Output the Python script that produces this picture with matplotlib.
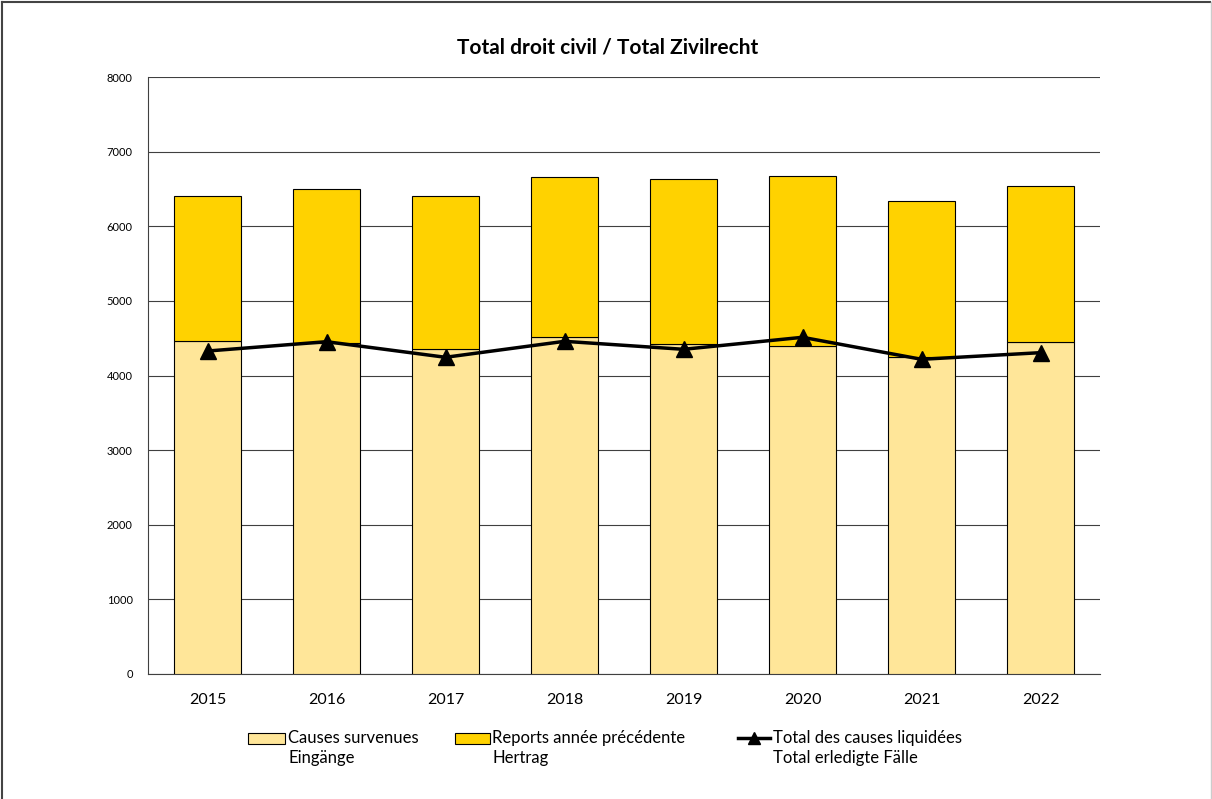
import matplotlib
matplotlib.use("Agg")
import matplotlib.pyplot as plt
from matplotlib.patches import Rectangle
from matplotlib.lines import Line2D
import numpy as np

years = ["2015", "2016", "2017", "2018", "2019", "2020", "2021", "2022"]
causes_survenues = [4462, 4440, 4359, 4516, 4422, 4395, 4244, 4445]
reports = [1943, 2055, 2046, 2148, 2207, 2283, 2089, 2094]
liquidees = [4328, 4453, 4244, 4458, 4351, 4512, 4217, 4306]

title = "Total droit civil / Total Zivilrecht"
label_causes = ["Causes survenues", "Eingänge"]
label_reports = ["Reports année précédente", "Hertrag"]
label_liq = ["Total des causes liquidées", "Total erledigte Fälle"]

plt.rcParams['font.family'] = ['Lato', 'DejaVu Sans']

W, H = 1212, 799
fig = plt.figure(figsize=(W / 100, H / 100), dpi=100)
ax = fig.add_axes([148 / W, 1 - 674 / H, (1100 - 148) / W, (674 - 77) / H])

x = np.arange(len(years))
bw = 0.57
light = "#FFE699"
gold = "#FFD200"
ax.bar(x, causes_survenues, bw, color=light, edgecolor="black", linewidth=0.8, zorder=3)
ax.bar(x, reports, bw, bottom=causes_survenues, color=gold, edgecolor="black", linewidth=0.8, zorder=3)
ax.plot(x, liquidees, color="black", linewidth=2.5, marker="^", markersize=12, zorder=4)

ax.set_xlim(-0.5, len(years) - 0.5)
ax.set_ylim(0, 8000)
ax.set_yticks(range(0, 8001, 1000))
ax.set_yticklabels([str(v) for v in range(0, 8001, 1000)], fontsize=8)
ax.set_xticks(x)
ax.set_xticklabels(years, fontsize=11.5)
ax.tick_params(axis="y", length=0, pad=11)
ax.tick_params(axis="x", length=0, pad=14)
ax.yaxis.grid(True, color="#404040", linewidth=0.8, zorder=0)
ax.set_axisbelow(True)
for s in ["top", "right"]:
    ax.spines[s].set_visible(False)
ax.spines["left"].set_color("#404040")
ax.spines["bottom"].set_color("#404040")

fig.text(608 / W, 1 - 47 / H, title, ha="center", va="center", fontsize=15, fontweight="bold")

# manual legend (figure pixel coordinates)
def fx(px):
    return px / W

def fy(py):
    return 1 - py / H

y1, y2 = 738, 758
fs = 12
fig.patches.append(Rectangle((fx(248), fy(744)), (285 - 248) / W, 11 / H, transform=fig.transFigure,
                             facecolor=light, edgecolor="black", linewidth=0.8))
fig.patches.append(Rectangle((fx(455), fy(744)), (490 - 455) / W, 11 / H, transform=fig.transFigure,
                             facecolor=gold, edgecolor="black", linewidth=0.8))
fig.lines.append(Line2D([fx(738), fx(770)], [fy(738), fy(738)], transform=fig.transFigure,
                        color="black", linewidth=2.5))
fig.lines.append(Line2D([fx(754)], [fy(738)], transform=fig.transFigure,
                        color="black", marker="^", markersize=9, linestyle="none"))
for xt, lab in [(288, label_causes), (492, label_reports), (773, label_liq)]:
    fig.text(fx(xt), fy(y1), lab[0], ha="left", va="center", fontsize=fs)
    fig.text(fx(xt), fy(y2), lab[1], ha="left", va="center", fontsize=fs)

# outer frame
fig.lines.append(Line2D([fx(2), fx(2)], [fy(2), 0], transform=fig.transFigure, color="#444444", linewidth=1.5))
fig.lines.append(Line2D([fx(2), fx(1210)], [fy(2), fy(2)], transform=fig.transFigure, color="#444444", linewidth=1.5))
fig.lines.append(Line2D([fx(1211), fx(1211)], [fy(2), 0], transform=fig.transFigure, color="#cccccc", linewidth=1.0))

fig.savefig("out.png", dpi=100)
